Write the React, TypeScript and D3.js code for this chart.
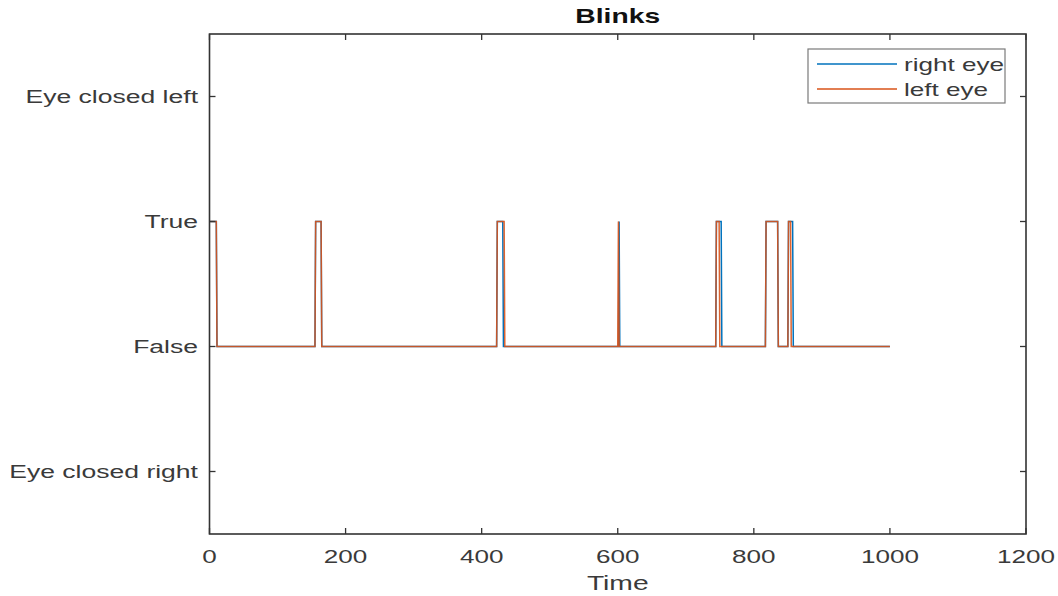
import React from "react";
import * as d3 from "d3";

// ---- Data (breakpoints of the step-like blink signals) ----
const rightTime = [1, 10, 11, 155, 156, 164, 165, 422, 423, 431, 432, 601, 602, 603, 744, 745, 752, 753, 817, 818, 835, 836, 850, 851, 857, 858, 1000];
const rightValue = [1, 1, 0, 0, 1, 1, 0, 0, 1, 1, 0, 0, 1, 0, 0, 1, 1, 0, 0, 1, 1, 0, 0, 1, 1, 0, 0];

const leftTime = [1, 10, 11, 155, 156, 164, 165, 422, 423, 433, 434, 600, 601, 602, 744, 745, 749, 750, 817, 818, 835, 836, 850, 851, 854, 855, 1000];
const leftValue = [1, 1, 0, 0, 1, 1, 0, 0, 1, 1, 0, 0, 1, 0, 0, 1, 1, 0, 0, 1, 1, 0, 0, 1, 1, 0, 0];

const xTicks = [0, 200, 400, 600, 800, 1000, 1200];
const yTickValues = [-1, 0, 1, 2];
const yTickLabels = ["Eye closed right", "False", "True", "Eye closed left"];
const seriesNames = ["right eye", "left eye"];
const seriesColors = ["#0072BD", "#D95319"];

const W = 1058;
const H = 596;
const left = 209.5;
const right = 1026;
const top = 34;
const bottom = 534;
const SX = 1.45;
const axisColor = "#333333";
const textColor = "#3a3a3a";
const FONT = "'Liberation Sans', Arial, Helvetica, sans-serif";

function SText({ x, y, anchor, size, weight, children, color }: any) {
  return (
    <g transform={`translate(${x},${y}) scale(${SX},1)`}>
      <text
        x={0}
        y={0}
        textAnchor={anchor || "start"}
        fontSize={size}
        fontWeight={weight || "normal"}
        fontFamily={FONT}
        fill={color || textColor}
      >
        {children}
      </text>
    </g>
  );
}

export default function App() {
  const x = d3.scaleLinear().domain([0, 1200]).range([left, right]);
  const y = d3.scaleLinear().domain([-1.5, 2.5]).range([bottom, top]);
  const line = d3
    .line<[number, number]>()
    .x((d) => x(d[0]))
    .y((d) => y(d[1]));

  const rightPts: [number, number][] = rightTime.map((t, i) => [t, rightValue[i]]);
  const leftPts: [number, number][] = leftTime.map((t, i) => [t, leftValue[i]]);
  const tickLen = 6;

  return (
    <svg
      width={W}
      height={H}
      style={{ position: "absolute", left: 0, top: 0, display: "block", background: "#fff" }}
    >
      <rect x={0} y={0} width={W} height={H} fill="#fff" />
      {/* data lines */}
      <path d={line(rightPts) || ""} fill="none" stroke={seriesColors[0]} strokeWidth={1.5} />
      <path d={line(leftPts) || ""} fill="none" stroke={seriesColors[1]} strokeWidth={1.5} strokeOpacity={0.9} />

      {/* axes box */}
      <rect x={left} y={top} width={right - left} height={bottom - top} fill="none" stroke={axisColor} strokeWidth={1.6} />

      {/* x ticks */}
      {xTicks.map((t) => (
        <g key={"x" + t}>
          <line x1={x(t)} x2={x(t)} y1={bottom} y2={bottom - tickLen} stroke={axisColor} strokeWidth={1.3} />
          <line x1={x(t)} x2={x(t)} y1={top} y2={top + tickLen} stroke={axisColor} strokeWidth={1.3} />
          <SText x={x(t)} y={563} anchor="middle" size={18}>
            {String(t)}
          </SText>
        </g>
      ))}

      {/* y ticks */}
      {yTickValues.map((v, i) => (
        <g key={"y" + v}>
          <line x1={left} x2={left + tickLen} y1={y(v)} y2={y(v)} stroke={axisColor} strokeWidth={1.3} />
          <line x1={right} x2={right - tickLen} y1={y(v)} y2={y(v)} stroke={axisColor} strokeWidth={1.3} />
          <SText x={198} y={y(v) + 6.5} anchor="end" size={18.3}>
            {yTickLabels[i]}
          </SText>
        </g>
      ))}

      {/* title and label */}
      <SText x={(left + right) / 2} y={23} anchor="middle" size={19.5} weight="bold" color="#111">
        Blinks
      </SText>
      <SText x={(left + right) / 2} y={590} anchor="middle" size={19.5}>
        Time
      </SText>

      {/* legend */}
      <rect x={808} y={49} width={197} height={54} fill="#fff" stroke="#7a7a7a" strokeWidth={1.2} />
      {seriesNames.map((name, i) => (
        <g key={name}>
          <line x1={817} x2={897} y1={64 + i * 25} y2={64 + i * 25} stroke={seriesColors[i]} strokeWidth={1.3} />
          <SText x={904} y={70.5 + i * 25} anchor="start" size={18}>
            {name}
          </SText>
        </g>
      ))}
    </svg>
  );
}
